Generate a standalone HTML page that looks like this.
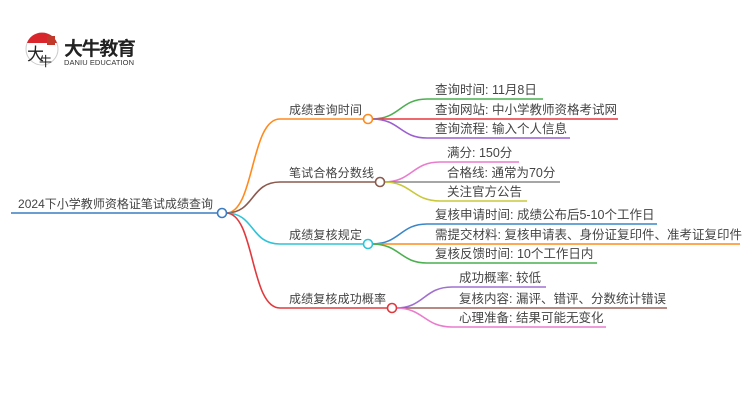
<!DOCTYPE html>
<html><head><meta charset="utf-8"><style>
html,body{margin:0;padding:0;background:#fff;}
svg{display:block;}
text{font-family:"Liberation Sans","Noto Sans CJK SC",sans-serif;fill:#444;}
</style></head><body>
<svg width="750" height="410" viewBox="0 0 750 410" xmlns="http://www.w3.org/2000/svg">
<!-- logo -->
<circle cx="42" cy="49" r="16" fill="#fff" stroke="#ccc" stroke-width="1"/>
<path d="M27,43 A16,16 0 0 1 57,43 Z" fill="#d9262c"/>
<rect x="47" y="36" width="8" height="9" fill="#c0392b"/>
<text x="27" y="60" font-size="17" style="fill:#222">大</text>
<text x="39" y="66" font-size="13" style="fill:#222">牛</text>
<text x="64" y="55" font-size="19" font-weight="bold" style="fill:#222" textLength="72">大牛教育</text>
<text x="64" y="65" font-size="7.5" style="fill:#333" textLength="70">DANIU EDUCATION</text>

<g fill="none" stroke-width="1.6">
<!-- root -->
<path d="M11,213 H218" stroke="#3b7dc4"/>
<!-- branches -->
<path d="M226,213 C255,213 250,119 280,119 H364" stroke="#ff8a1e"/>
<path d="M226,213 C255,213 250,182 280,182 H376" stroke="#8b5a4e"/>
<path d="M226,213 C255,213 250,244 280,244 H364" stroke="#2ec4d8"/>
<path d="M226,213 C255,213 250,308 280,308 H388" stroke="#e03a3e"/>
<!-- leaves b1 -->
<path d="M372,119 C400,119 400,99 427,99 H543" stroke="#4caf50"/>
<path d="M372,119 H618" stroke="#e8373d"/>
<path d="M372,119 C400,119 400,138 427,138 H570" stroke="#9b5fd0"/>
<!-- leaves b2 -->
<path d="M384,182 C412,182 412,162 440,162 H519" stroke="#ea7ccd"/>
<path d="M384,182 H560" stroke="#888"/>
<path d="M384,182 C412,182 412,201 440,201 H527" stroke="#c8c83a"/>
<!-- leaves b3 -->
<path d="M372,244 C400,244 400,224 427,224 H657" stroke="#3a86c8"/>
<path d="M372,244 H740" stroke="#ff8c1a"/>
<path d="M372,244 C400,244 400,263 427,263 H597" stroke="#4caf50"/>
<!-- leaves b4 -->
<path d="M396,308 C424,308 424,287 452,287 H546" stroke="#a070d0"/>
<path d="M396,308 H667" stroke="#a0605a"/>
<path d="M396,308 C424,308 424,327 452,327 H606" stroke="#ea7ccd"/>
</g>
<g fill="#fff" stroke-width="1.6">
<circle cx="222" cy="213" r="4.5" stroke="#3b7dc4"/>
<circle cx="368" cy="119" r="4.5" stroke="#ff8a1e"/>
<circle cx="380" cy="182" r="4.5" stroke="#8b5a4e"/>
<circle cx="368" cy="244" r="4.5" stroke="#2ec4d8"/>
<circle cx="392" cy="308" r="4.5" stroke="#e03a3e"/>
</g>

<text x="18" y="208" font-size="12" textLength="195">2024下小学教师资格证笔试成绩查询</text>
<text x="289" y="114" font-size="12" textLength="73">成绩查询时间</text>
<text x="289" y="177" font-size="12" textLength="85">笔试合格分数线</text>
<text x="289" y="239" font-size="12" textLength="73">成绩复核规定</text>
<text x="289" y="303" font-size="12" textLength="97">成绩复核成功概率</text>

<g font-size="12.5">
<text x="435" y="94">查询时间: 11月8日</text>
<text x="435" y="114">查询网站: 中小学教师资格考试网</text>
<text x="435" y="133">查询流程: 输入个人信息</text>
<text x="447" y="157">满分: 150分</text>
<text x="447" y="177">合格线: 通常为70分</text>
<text x="447" y="196">关注官方公告</text>
<text x="435" y="219">复核申请时间: 成绩公布后5-10个工作日</text>
<text x="435" y="239">需提交材料: 复核申请表、身份证复印件、准考证复印件</text>
<text x="435" y="258">复核反馈时间: 10个工作日内</text>
<text x="459" y="282">成功概率: 较低</text>
<text x="459" y="303">复核内容: 漏评、错评、分数统计错误</text>
<text x="459" y="322">心理准备: 结果可能无变化</text>
</g>
</svg>
</body></html>
